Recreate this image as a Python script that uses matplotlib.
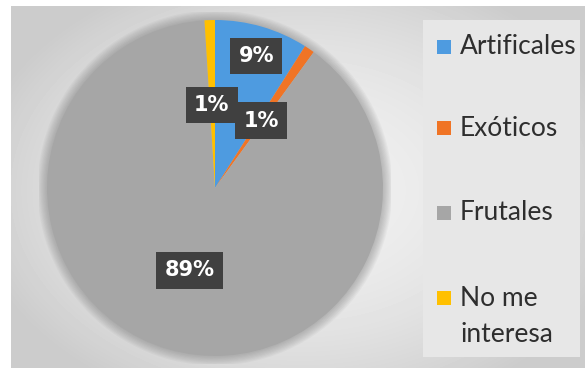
import matplotlib
matplotlib.use('Agg')
import matplotlib.pyplot as plt
import matplotlib.patches as patches
import numpy as np

# Survey answers (percent)
categories = ['Artificales', 'Exóticos', 'Frutales', 'No me\ninteresa']
values = [9, 1, 89, 1]
colors = ['#4e9be0', '#f07425', '#a6a6a6', '#ffc000']
label_texts = ['9%', '1%', '89%', '1%']
# where each data label box sits inside the pie (radius = 1)
label_pos = [(0.245, 0.785), (0.275, 0.40), (-0.15, -0.49), (-0.02, 0.495)]

W, H = 585, 368
fig = plt.figure(figsize=(W / 100, H / 100), dpi=100)

# soft grey backdrop, lighter in the middle
bg = fig.add_axes([0, 0, 1, 1])
yy, xx = np.mgrid[0:H, 0:W]
d = ((xx - 300) / 330.0) ** 2 + ((yy - 190) / 230.0) ** 2
shade = np.clip(0.94 - 0.14 * d, 0.80, 0.95)
bg.imshow(shade, cmap='gray', vmin=0, vmax=1, extent=[0, W, H, 0], aspect='auto')
bg.set_xlim(0, W)
bg.set_ylim(H, 0)
bg.axis('off')
# white margins along the top and left edge
bg.add_patch(patches.Rectangle((0, 0), W, 6, color='white', lw=0))
bg.add_patch(patches.Rectangle((0, 0), 11, H, color='white', lw=0))
# legend panel
bg.add_patch(patches.Rectangle((423, 20), 157, 337, color='#e7e7e7', lw=0))

# pie: centre (215, 188) px, radius 168 px
cx, cy, r = 215, 188, 168
ax = fig.add_axes([(cx - r * 1.05) / W, (H - cy - r * 1.05) / H,
                   2.1 * r / W, 2.1 * r / H])
ax.patch.set_visible(False)

# faint shadow ring around the pie
for k in range(8):
    ax.add_patch(patches.Circle((0, 0), 1.0 + 0.007 * (k + 1), color='#707070',
                                alpha=0.06, lw=0, zorder=0))

ax.pie(values, colors=colors, startangle=90, counterclock=False, radius=1,
       wedgeprops=dict(linewidth=0))
ax.set_xlim(-1.05, 1.05)
ax.set_ylim(-1.05, 1.05)
ax.set_aspect('auto')
ax.axis('off')

for (x, y), txt in zip(label_pos, label_texts):
    ax.text(x, y, txt, ha='center', va='center', color='white', fontsize=15,
            fontweight='bold', family='DejaVu Sans',
            bbox=dict(boxstyle='square,pad=0.4', fc='#404040', ec='none'), zorder=5)

# legend drawn by hand
row_y = [47, 128, 213, 298]
for cat, col, y in zip(categories, colors, row_y):
    bg.add_patch(patches.Rectangle((437, y - 7), 14, 14, color=col, lw=0))
    for i, line in enumerate(cat.split('\n')):
        bg.text(460, y + i * 37, line, ha='left', va='center', fontsize=19,
                color='#2e2e2e', family='Lato')

fig.savefig('out.png', dpi=100)
